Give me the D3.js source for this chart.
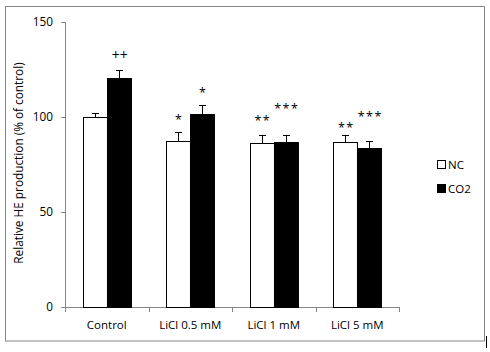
<!DOCTYPE html>
<html>
<head>
<meta charset="utf-8">
<script src="https://d3js.org/d3.v7.min.js"></script>
<style>
  body { margin: 0; background: #fff; }
  text { font-family: "Open Sans", "DejaVu Sans", sans-serif; fill: #000; }
</style>
</head>
<body>
<svg id="chart" width="490" height="352"></svg>
<script>
// chart data
const categories = ["Control", "LiCl 0.5 mM", "LiCl 1 mM", "LiCl 5 mM"];
const series = ["NC", "CO2"];
const ncValues = [100, 87.2, 86.1, 86.7];
const ncErrors = [2, 4.8, 4.3, 3.7];
const co2Values = [120.5, 101.6, 86.8, 83.7];
const co2Errors = [4.1, 4.6, 3.6, 3.5];
const ncMarks = ["", "*", "**", "**"];
const co2Marks = ["++", "*", "***", "***"];
// height (in axis units) where each significance mark sits
const ncMarkLevels = [0, 100, 99.5, 96];
const co2MarkLevels = [132.6, 114, 106, 101.5];
const yTicks = [0, 50, 100, 150];

const svg = d3.select("#chart");

// outer frame
svg.append("rect")
    .attr("x", 5.5).attr("y", 6.5)
    .attr("width", 479).attr("height", 334.5)
    .attr("fill", "none").attr("stroke", "#868686");
svg.append("line")
    .attr("x1", 486.5).attr("x2", 486.5)
    .attr("y1", 336).attr("y2", 348)
    .attr("stroke", "#000");

const margin = { left: 65, right: 91, top: 22, bottom: 45 };
const width = 490 - margin.left - margin.right;
const height = 352 - margin.top - margin.bottom;

const g = svg.append("g").attr("transform", `translate(${margin.left},${margin.top})`);

const x = d3.scaleBand().domain(categories).range([0, width]).paddingInner(0).paddingOuter(0);
const y = d3.scaleLinear().domain([0, 150]).range([height, 0]);

const barW = x.bandwidth() * 0.287;

// y axis
const yAxis = g.append("g")
    .call(d3.axisLeft(y).tickValues(yTicks).tickSize(4).tickPadding(8));
yAxis.selectAll("path, line").attr("stroke", "#868686");
yAxis.selectAll("text").style("font-size", "11.8px").style("font-family", "Open Sans");

// x axis
const xAxis = g.append("g").attr("transform", `translate(0,${height})`);
xAxis.append("line")
    .attr("x1", 0).attr("x2", width).attr("y1", 0.5).attr("y2", 0.5)
    .attr("stroke", "#868686");
const bounds = d3.range(categories.length + 1).map(i => i * x.step());
xAxis.selectAll(".bt").data(bounds).join("line")
    .attr("x1", d => Math.round(d) + 0.5).attr("x2", d => Math.round(d) + 0.5)
    .attr("y1", 0).attr("y2", 5)
    .attr("stroke", "#868686");
xAxis.selectAll(".cl").data(categories).join("text")
    .attr("x", d => x(d) + x.bandwidth() / 2)
    .attr("y", 18)
    .attr("dy", "0.35em")
    .attr("text-anchor", "middle")
    .style("font-size", "11.5px")
    .text(d => d);

// bars
const groups = [
  { vals: ncValues, errs: ncErrors, marks: ncMarks, levels: ncMarkLevels, fill: "#fff", off: -barW },
  { vals: co2Values, errs: co2Errors, marks: co2Marks, levels: co2MarkLevels, fill: "#000", off: 0 }
];

groups.forEach(s => {
  const cx = (d, i) => x(categories[i]) + x.bandwidth() / 2 + s.off;
  // error bars (upper only)
  g.selectAll(null).data(s.vals).join("line")
      .attr("x1", (d, i) => Math.round(cx(d, i) + barW / 2) + 0.5)
      .attr("x2", (d, i) => Math.round(cx(d, i) + barW / 2) + 0.5)
      .attr("y1", d => y(d))
      .attr("y2", (d, i) => y(d + s.errs[i]))
      .attr("stroke", "#000");
  g.selectAll(null).data(s.vals).join("line")
      .attr("x1", (d, i) => Math.round(cx(d, i) + barW / 2) - 3)
      .attr("x2", (d, i) => Math.round(cx(d, i) + barW / 2) + 4)
      .attr("y1", (d, i) => Math.round(y(d + s.errs[i])) + 0.5)
      .attr("y2", (d, i) => Math.round(y(d + s.errs[i])) + 0.5)
      .attr("stroke", "#000");
  g.selectAll(null).data(s.vals).join("rect")
      .attr("x", (d, i) => Math.round(cx(d, i)) + 0.5)
      .attr("y", d => Math.round(y(d)) + 0.5)
      .attr("width", barW)
      .attr("height", d => height - Math.round(y(d)))
      .attr("fill", s.fill)
      .attr("stroke", "#000");
  // significance marks
  g.selectAll(null).data(s.marks).join("text")
      .attr("x", (d, i) => cx(0, i) + barW / 2 + 1)
      .attr("y", (d, i) => y(s.levels[i]) + (d === "++" ? 5 : 7))
      .attr("text-anchor", "middle")
      .style("font-size", d => d === "++" ? "14px" : "12.5px")
      .style("letter-spacing", d => d.startsWith("*") ? "1.5px" : "0px")
      .text(d => d);
});

// legend
const legend = svg.append("g").attr("transform", "translate(437,160)");
series.forEach((name, i) => {
  legend.append("rect")
      .attr("x", 0.5).attr("y", i * 24 + 0.5)
      .attr("width", 8).attr("height", 8)
      .attr("fill", i === 0 ? "#fff" : "#000")
      .attr("stroke", "#000");
  legend.append("text")
      .attr("x", 11).attr("y", i * 24 + 4.5)
      .attr("dy", "0.35em")
      .style("font-size", "11.5px")
      .text(name);
});

// y label
svg.append("text")
    .attr("transform", `translate(19,163) rotate(-90)`)
    .attr("text-anchor", "middle")
    .attr("dy", "0.35em")
    .style("font-size", "11.8px")
    .text("Relative HE production (% of control)");
</script>
</body>
</html>
